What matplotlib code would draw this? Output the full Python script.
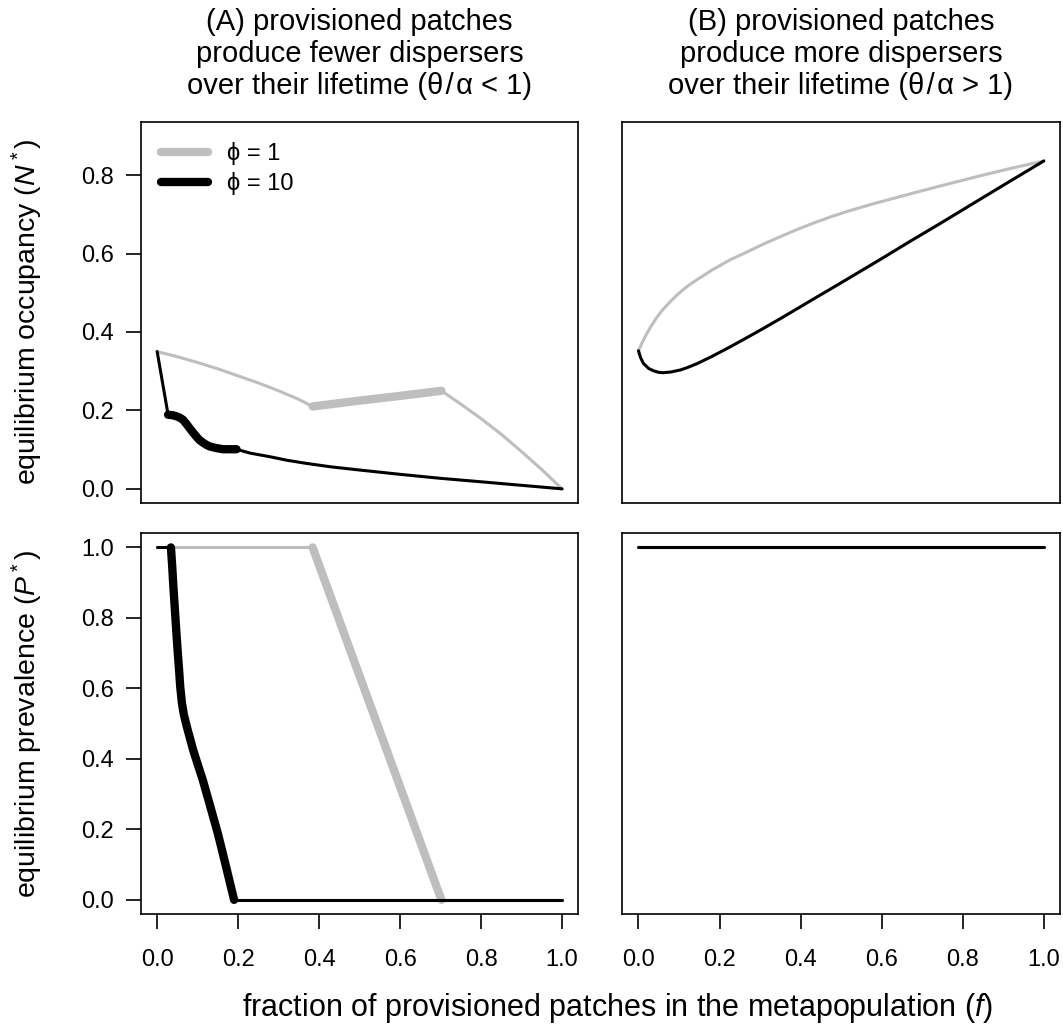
import matplotlib
matplotlib.use("Agg")
import matplotlib.pyplot as plt
from matplotlib.lines import Line2D

plt.rcParams["font.family"] = ["Liberation Sans", "DejaVu Sans"]
plt.rcParams["mathtext.fontset"] = "custom"
plt.rcParams["mathtext.rm"] = "Liberation Sans"
plt.rcParams["mathtext.it"] = "Liberation Sans:italic"

GREY = "#bebebe"
THIN = 2.2
THICK = 6.0

#~~~ data ~~~

# panel A, occupancy, phi = 1 (grey): thin / thick / thin pieces
occ_a_grey_f1 = [0.0, 0.05, 0.1, 0.15, 0.2, 0.25, 0.3, 0.35, 0.384]
occ_a_grey_n1 = [0.35, 0.337, 0.322, 0.306, 0.288, 0.27, 0.25, 0.228, 0.21]
occ_a_grey_f2 = [0.384, 0.5, 0.6, 0.702]
occ_a_grey_n2 = [0.21, 0.225, 0.237, 0.25]
occ_a_grey_f3 = [0.702, 0.75, 0.8, 0.85, 0.9, 0.95, 1.0]
occ_a_grey_n3 = [0.25, 0.216, 0.179, 0.139, 0.095, 0.049, 0.0]

# panel A, occupancy, phi = 10 (black)
occ_a_black_f1 = [0.0, 0.027]
occ_a_black_n1 = [0.35, 0.189]
occ_a_black_f2 = [0.027, 0.036, 0.045, 0.055, 0.064, 0.072, 0.08, 0.089, 0.097,
                  0.105, 0.113, 0.122, 0.13, 0.146, 0.163, 0.18, 0.196]
occ_a_black_n2 = [0.189, 0.188, 0.186, 0.182, 0.176, 0.166, 0.155, 0.143, 0.133,
                  0.124, 0.118, 0.112, 0.108, 0.104, 0.101, 0.101, 0.101]
occ_a_black_f3 = [0.196, 0.23, 0.278, 0.32, 0.368, 0.43, 0.5, 0.6, 0.698, 0.8, 0.9, 1.0]
occ_a_black_n3 = [0.101, 0.091, 0.082, 0.073, 0.065, 0.056, 0.048, 0.037, 0.027, 0.018, 0.009, 0.0]

# panel A, prevalence
prev_a_grey_f1 = [0.0, 0.384]
prev_a_grey_p1 = [1.0, 1.0]
prev_a_grey_f2 = [0.384, 0.702]
prev_a_grey_p2 = [1.0, 0.0]
prev_a_grey_f3 = [0.702, 1.0]
prev_a_grey_p3 = [0.0, 0.0]

prev_a_black_f1 = [0.0, 0.034]
prev_a_black_p1 = [1.0, 1.0]
prev_a_black_f2 = [0.034, 0.037, 0.040, 0.044, 0.048, 0.051, 0.054, 0.057, 0.061,
                   0.066, 0.075, 0.089, 0.1, 0.112, 0.13, 0.15, 0.17, 0.19]
prev_a_black_p2 = [1.0, 0.95, 0.89, 0.82, 0.75, 0.70, 0.655, 0.605, 0.56,
                   0.525, 0.484, 0.425, 0.385, 0.343, 0.27, 0.188, 0.095, 0.0]
prev_a_black_f3 = [0.19, 1.0]
prev_a_black_p3 = [0.0, 0.0]

# panel B, occupancy
occ_b_grey_f = [0.0, 0.01, 0.02, 0.03, 0.045, 0.061, 0.08, 0.1, 0.12, 0.144, 0.18,
                0.226, 0.27, 0.308, 0.35, 0.391, 0.43, 0.473, 0.52, 0.58, 0.663,
                0.74, 0.827, 0.91, 1.0]
occ_b_grey_n = [0.352, 0.375, 0.395, 0.413, 0.437, 0.458, 0.479, 0.499, 0.516, 0.533, 0.557,
                0.584, 0.605, 0.624, 0.643, 0.661, 0.677, 0.693, 0.709, 0.727, 0.75,
                0.771, 0.794, 0.815, 0.836]
occ_b_black_f = [0.0, 0.005, 0.012, 0.025, 0.037, 0.05, 0.061, 0.08, 0.103, 0.12, 0.144,
                 0.18, 0.226, 0.27, 0.308, 0.35, 0.391, 0.43, 0.473, 0.522, 0.6, 0.67,
                 0.745, 0.82, 0.9, 1.0]
occ_b_black_n = [0.352, 0.335, 0.32, 0.307, 0.301, 0.297, 0.296, 0.298, 0.303, 0.309, 0.319,
                 0.337, 0.362, 0.387, 0.409, 0.434, 0.459, 0.483, 0.509, 0.539, 0.587, 0.631,
                 0.677, 0.724, 0.774, 0.836]

# panel B, prevalence
prev_b_f = [0.0, 1.0]
prev_b_grey_p = [1.0, 1.0]
prev_b_black_p = [1.0, 1.0]

xticks = [0.0, 0.2, 0.4, 0.6, 0.8, 1.0]
occ_ticks = [0.0, 0.2, 0.4, 0.6, 0.8]
prev_ticks = [0.0, 0.2, 0.4, 0.6, 0.8, 1.0]


def seg(ax, f, y, color, lw):
    ax.plot(f, y, color=color, lw=lw, solid_capstyle="round", solid_joinstyle="round")


def style(ax, yticks, ylim, show_x, show_y):
    ax.set_xlim(-0.04, 1.04)
    ax.set_ylim(*ylim)
    ax.tick_params(direction="out", length=10.5, width=1.2, labelsize=17)
    ax.tick_params(axis="x", pad=15)
    ax.tick_params(axis="y", pad=9)
    ax.set_xticks(xticks)
    ax.set_yticks(yticks)
    ax.set_xticklabels([f"{t:.1f}" for t in xticks])
    ax.set_yticklabels([f"{t:.1f}" for t in yticks])
    if not show_x:
        ax.tick_params(axis="x", bottom=False, labelbottom=False)
    if not show_y:
        ax.tick_params(axis="y", left=False, labelleft=False)
    for s in ax.spines.values():
        s.set_linewidth(1.2)


fig = plt.figure(figsize=(10.63, 10.29), dpi=100)
ax_a1 = fig.add_axes([0.1326, 0.5112, 0.4114, 0.3705])
ax_b1 = fig.add_axes([0.5854, 0.5112, 0.4118, 0.3705])
ax_a2 = fig.add_axes([0.1326, 0.1118, 0.4114, 0.3699])
ax_b2 = fig.add_axes([0.5854, 0.1118, 0.4118, 0.3699])

# (A) occupancy
seg(ax_a1, occ_a_grey_f1, occ_a_grey_n1, GREY, THIN)
seg(ax_a1, occ_a_grey_f2, occ_a_grey_n2, GREY, THICK)
seg(ax_a1, occ_a_grey_f3, occ_a_grey_n3, GREY, THIN)
seg(ax_a1, occ_a_black_f1, occ_a_black_n1, "black", THIN)
seg(ax_a1, occ_a_black_f2, occ_a_black_n2, "black", THICK)
seg(ax_a1, occ_a_black_f3, occ_a_black_n3, "black", THIN)

# (A) prevalence
seg(ax_a2, prev_a_grey_f1, prev_a_grey_p1, GREY, THIN)
seg(ax_a2, prev_a_grey_f2, prev_a_grey_p2, GREY, THICK)
seg(ax_a2, prev_a_grey_f3, prev_a_grey_p3, GREY, THIN)
seg(ax_a2, prev_a_black_f1, prev_a_black_p1, "black", THIN)
seg(ax_a2, prev_a_black_f2, prev_a_black_p2, "black", THICK)
seg(ax_a2, prev_a_black_f3, prev_a_black_p3, "black", THIN)

# (B)
seg(ax_b1, occ_b_grey_f, occ_b_grey_n, GREY, THIN)
seg(ax_b1, occ_b_black_f, occ_b_black_n, "black", THIN)
seg(ax_b2, prev_b_f, prev_b_grey_p, GREY, THIN)
seg(ax_b2, prev_b_f, prev_b_black_p, "black", THIN)

style(ax_a1, occ_ticks, (-0.036, 0.936), False, True)
style(ax_b1, occ_ticks, (-0.036, 0.936), False, False)
style(ax_a2, prev_ticks, (-0.04, 1.04), True, True)
style(ax_b2, prev_ticks, (-0.04, 1.04), True, False)

handles = [Line2D([], [], color=GREY, lw=THICK, solid_capstyle="round"),
           Line2D([], [], color="black", lw=THICK, solid_capstyle="round")]
ax_a1.legend(handles, ["\u03d5 = 1", "\u03d5 = 10"], loc="upper left", frameon=False,
             fontsize=17, handlelength=2.0, handletextpad=0.8,
             borderaxespad=0.45, labelspacing=0.3)

fig.text(27 / 1063, 0.6968, "equilibrium occupancy ($N^*$)", rotation=90,
         ha="center", va="center", fontsize=20.5)
fig.text(27 / 1063, 0.2967, "equilibrium prevalence ($P^*$)", rotation=90,
         ha="center", va="center", fontsize=20.5)

fig.text(359.5 / 1063, 0.9475,
         "(A) provisioned patches\nproduce fewer dispersers\n"
         "over their lifetime (\u03b8\u200a/\u200a\u03b1 < 1)",
         ha="center", va="center", fontsize=21, linespacing=1.2)
fig.text(841 / 1063, 0.9475,
         "(B) provisioned patches\nproduce more dispersers\n"
         "over their lifetime (\u03b8\u200a/\u200a\u03b1 > 1)",
         ha="center", va="center", fontsize=21, linespacing=1.2)

fig.text(0.581, 0.0204, "fraction of provisioned patches in the metapopulation ($f$)",
         ha="center", va="center", fontsize=22)

fig.savefig("out.png", dpi=100)
